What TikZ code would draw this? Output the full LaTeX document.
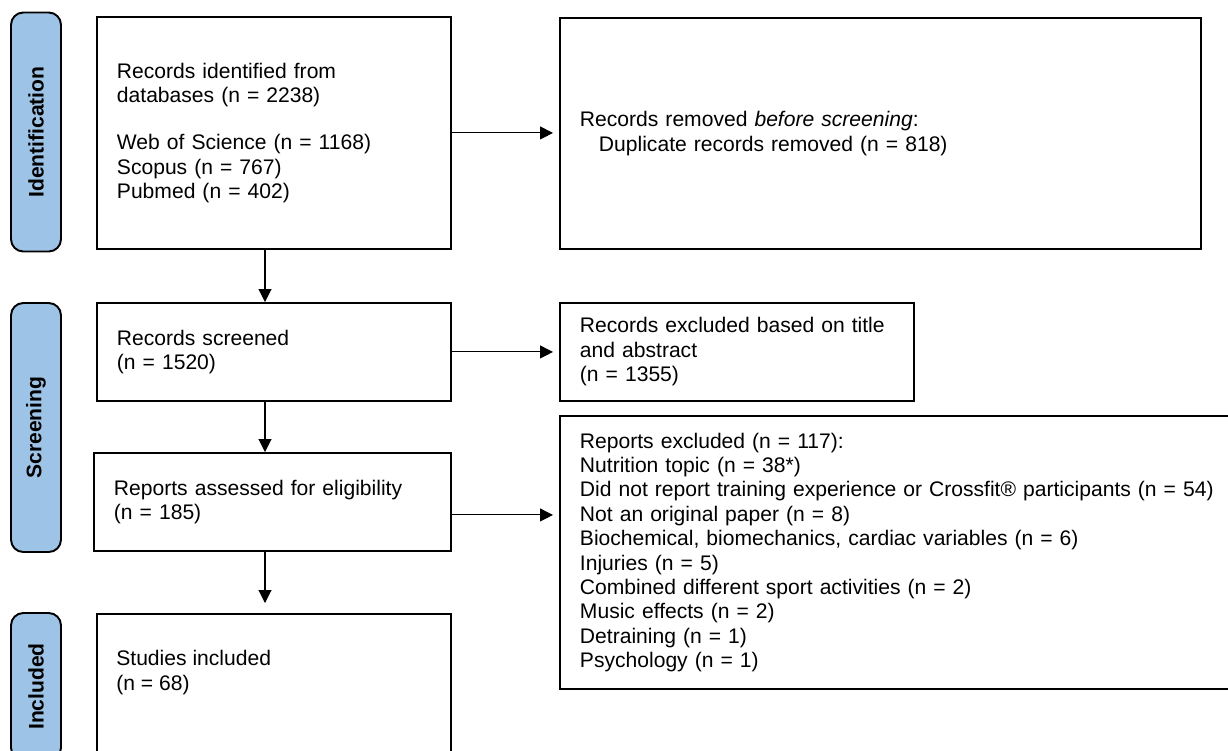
\documentclass[tikz,border=0pt]{standalone}
\usepackage{fontspec}
\setmainfont{Liberation Sans}
\usepackage{xcolor}
\usetikzlibrary{arrows.meta,positioning}
\definecolor{phaseblue}{HTML}{9DC3E6}

\begin{document}
\begin{tikzpicture}[
  x=0.02cm, y=-0.02cm,
  font=\fontsize{12}{13.9}\selectfont,
  box/.style   = {draw, line width=1.1pt, inner xsep=0.4cm, inner ysep=0pt,
                  align=left, anchor=north west},
  phase/.style = {draw, line width=1.1pt, rounded corners=7pt, fill=phaseblue,
                  minimum height=1cm, rotate=90, font=\fontsize{12}{13.9}\selectfont\bfseries},
  arr/.style   = {-{Triangle[length=0.26cm,width=0.26cm]}, line width=0.6pt}
]
\useasboundingbox (0,0) rectangle (1228,751);
%% Phase bars
\foreach \nd/\lb/\cy/\len in {pid/Identification/132/239,
                               psc/Screening/427.5/249,
                               pin/Included/686.5/147}{
  \node[phase, minimum width=\len*0.02cm] (\nd) at (36,\cy) {\lb};}
%% Main column
\node[box, text width=6.28cm, minimum height=4.64cm] (idf) at (96,16)
  {Records identified from\\databases (n = 2238)\\[0.45cm]
   Web of Science (n = 1168)\\Scopus (n = 767)\\Pubmed (n = 402)};
\node[box, text width=6.28cm, minimum height=1.96cm] (scr) at (96,302)
  {Records screened\\(n = 1520)};
\node[box, text width=6.34cm, minimum height=1.96cm] (elg) at (93,452)
  {Reports assessed for eligibility\\(n = 185)};
\node[box, text width=6.28cm, minimum height=3cm] (inc) at (96,613) {};
\node[anchor=west, align=left, inner sep=0pt] (inctxt) at (116,672.5)
  {Studies included\\(n = 68)};
%% Exclusion boxes
\node[box, text width=12.02cm, minimum height=4.62cm] (rem) at (559,17)
  {Records removed \textit{before screening}:\\
   \hspace*{0.38cm}Duplicate records removed (n = 818)};
\node[box, text width=6.28cm, minimum height=1.96cm] (exc) at (559,302)
  {Records excluded based on title\\and abstract\\(n = 1355)};
\node[box, text width=13.2cm, minimum height=5.46cm] (rpx) at (559,415)
  {Reports excluded (n = 117):\\
   Nutrition topic (n = 38*)\\
   Did not report training experience or Crossfit® participants (n = 54)\\
   Not an original paper (n = 8)\\
   Biochemical, biomechanics, cardiac variables (n = 6)\\
   Injuries (n = 5)\\
   Combined different sport activities (n = 2)\\
   Music effects (n = 2)\\
   Detraining (n = 1)\\
   Psychology (n = 1)};
%% Flow down
\coordinate (ax) at (265,0);
\draw[arr] (idf.south -| ax) -- (scr.north -| ax);
\draw[arr] (scr.south -| ax) -- (elg.north -| ax);
\draw[arr, shorten >=0.2cm] (elg.south -| ax) -- (inc.north -| ax);
%% Flow right
\coordinate (ea) at ([yshift=-0.26cm]elg.east);
\draw[arr, shorten >=0.12cm] (idf.east) -- (idf.east -| rem.west);
\draw[arr, shorten >=0.12cm] (scr.east) -- (scr.east -| exc.west);
\draw[arr, shorten >=0.12cm] (ea) -- (ea -| rpx.west);
\end{tikzpicture}
\end{document}
